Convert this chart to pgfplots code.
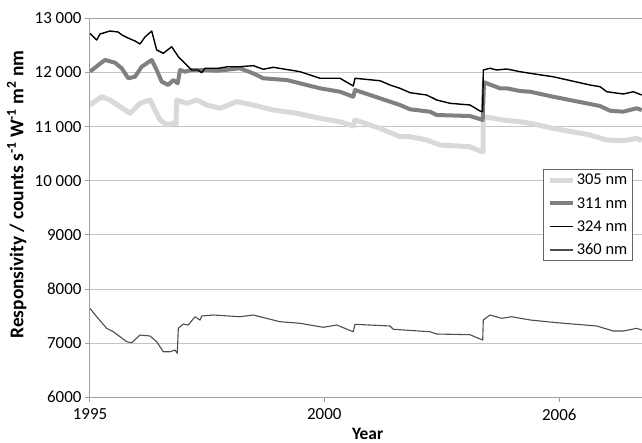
\documentclass[border=0pt]{standalone}
\usepackage{fontspec}
\setmainfont{Carlito}
\usepackage{pgfplots}
\pgfplotsset{compat=1.18}
\definecolor{c305}{HTML}{D9D9D9}
\definecolor{c311}{HTML}{808080}
\definecolor{c324}{HTML}{000000}
\definecolor{c360}{HTML}{4D4D4D}
\definecolor{gridc}{HTML}{C4C4C4}
\definecolor{axc}{HTML}{A0A0A0}
\begin{document}
\begin{tikzpicture}
\begin{axis}[
  at={(0,0)}, anchor=south west,
  scale only axis, width=552bp, height=379bp,
  xmin=0, xmax=552, ymin=6000, ymax=13000,
  axis x line*=bottom, axis y line*=left,
  axis line style={draw=axc, line width=1bp},
  xtick={0,234.3,469.3}, xticklabels={1995,2000,2006},
  ytick={6000,7000,8000,9000,10000,11000,12000,13000},
  yticklabels={6000,7000,8000,9000,10~000,11~000,12~000,13~000},
  scaled y ticks=false, scaled x ticks=false,
  extra y ticks={13000}, extra y tick labels={},
  extra y tick style={grid style={draw=axc, line width=1bp}, major tick length=0pt},
  tick align=outside, major tick length=5bp,
  tick style={draw=axc, line width=1bp},
  ymajorgrids, grid style={draw=gridc, line width=1bp},
  ticklabel style={font=\fontsize{17}{20.4}\selectfont},
  /pgf/number format/assume math mode=true,
  xticklabel style={yshift=-3bp},
  xlabel={\textbf{Year}},
  ylabel={\textbf{Responsivity / counts s\textsuperscript{-1} W\textsuperscript{-1} m\textsuperscript{2} nm}},
  x label style={font=\fontsize{17.5}{21}\selectfont, at={(axis description cs:0.503,-0.096)}, anchor=center},
  y label style={font=\fontsize{19.5}{23}\selectfont, at={(axis description cs:-0.133,0.535)}, anchor=center},
  legend style={at={(rel axis cs:0.984,0.6016)}, anchor=north east,
    draw=black!60, fill=white, line width=0.8bp,
    font=\fontsize{16.5}{19.8}\selectfont,
    inner xsep=4bp, inner ysep=3bp, row sep=8bp,
    nodes={inner sep=1.5bp}},
  legend cell align=left,
  legend image code/.code={\draw[#1] (0bp,0bp) -- (23bp,0bp);},
]
\addplot[c305, line width=5bp, line join=round] coordinates {
(0,11399) (11.7,11552) (20,11491) (30,11367) (40,11245) (50,11430) (60,11491)
(70,11122) (76.7,11029) (83.3,11061) (86,11048) (86.7,11491) (96.7,11430)
(106.7,11491) (116.7,11399) (130,11338) (146.7,11460) (163.3,11399) (183.3,11306)
(206.7,11245) (230,11153) (250,11090) (263.3,11011) (265,11122) (290,10968)
(310,10813) (320,10813) (336.7,10752) (350,10660) (380,10628) (391.7,10536)
(393,10536) (393.3,11183) (413,11122) (430,11090) (440,11061) (463,10968)
(500,10845) (516.7,10752) (533,10739) (546.7,10784) (551.7,10739)
};
\addlegendentry{305 nm}
\addplot[c311, line width=4bp, line join=round] coordinates {
(0,12014) (8.3,12137) (15,12230) (25,12180) (31.7,12077) (38.3,11892) (45,11921)
(51.7,12106) (61.7,12230) (66.7,12045) (71.7,11829) (78.3,11768) (83.3,11860)
(87.7,11799) (90,12045) (95,12014) (101.7,12045) (111.7,12045) (128,12032)
(150,12077) (163,11984) (173.3,11892) (196.7,11860) (230,11707) (250,11644)
(263.3,11552) (265,11676) (290,11522) (310,11399) (320,11319) (340,11275)
(346.7,11214) (380,11195) (392.7,11122) (394,11818) (410,11707) (416.7,11707)
(430,11657) (440,11644) (463,11552) (500,11417) (510,11380) (520,11293)
(533,11275) (546.7,11338) (551.7,11306)
};
\addlegendentry{311 nm}
\addplot[c324, line width=1.4bp, line join=round] coordinates {
(0,12723) (6.7,12599) (10,12710) (20,12765) (28,12747) (32,12692) (38,12636)
(45,12581) (50,12525) (55,12655) (61.7,12765) (66.7,12415) (73.3,12354)
(81.7,12475) (88.3,12291) (95,12169) (101.7,12045) (108,12045) (111.7,11995)
(115,12077) (128.3,12077) (138,12106) (150,12106) (163.3,12125) (173.3,12058)
(183.3,12095) (210,12014) (230,11892) (250,11892) (263.3,11750) (265,11892)
(290,11847) (300,11768) (310,11707) (320,11626) (336.7,11583) (346.7,11491)
(360,11430) (380,11399) (390,11288) (392.7,11275) (393.3,12045) (400,12077)
(406.7,12045) (416.7,12064) (430,12014) (440,11984) (463,11921) (500,11768)
(510,11737) (516.7,11644) (533.3,11602) (543.3,11644) (551.7,11583)
};
\addlegendentry{324 nm}
\addplot[c360, line width=1.1bp, line join=round] coordinates {
(0,7644) (6.7,7488) (16.7,7274) (23.3,7211) (30,7119) (36.7,7027) (41.7,7008)
(50,7150) (60,7132) (66.7,7027) (73.3,6842) (80,6842) (85,6873) (87.3,6813)
(88.3,7274) (93.3,7354) (98.3,7335) (105,7488) (110,7427) (111.7,7502)
(123.3,7520) (150,7488) (163.3,7520) (190,7396) (210,7367) (233.3,7293)
(246.7,7335) (263.3,7211) (265,7348) (300,7317) (303.3,7256) (340,7211)
(346.7,7169) (380,7156) (388.3,7090) (392.7,7058) (393.3,7428) (400,7520)
(411.7,7459) (421.7,7488) (440,7428) (466.7,7378) (506.7,7317) (523.3,7224)
(533.3,7224) (546.7,7274) (551.7,7243)
};
\addlegendentry{360 nm}
\end{axis}
\pgfresetboundingbox
\path[use as bounding box] (-90bp,-45.7bp) rectangle (552bp,397.3bp);
\end{tikzpicture}
\end{document}
